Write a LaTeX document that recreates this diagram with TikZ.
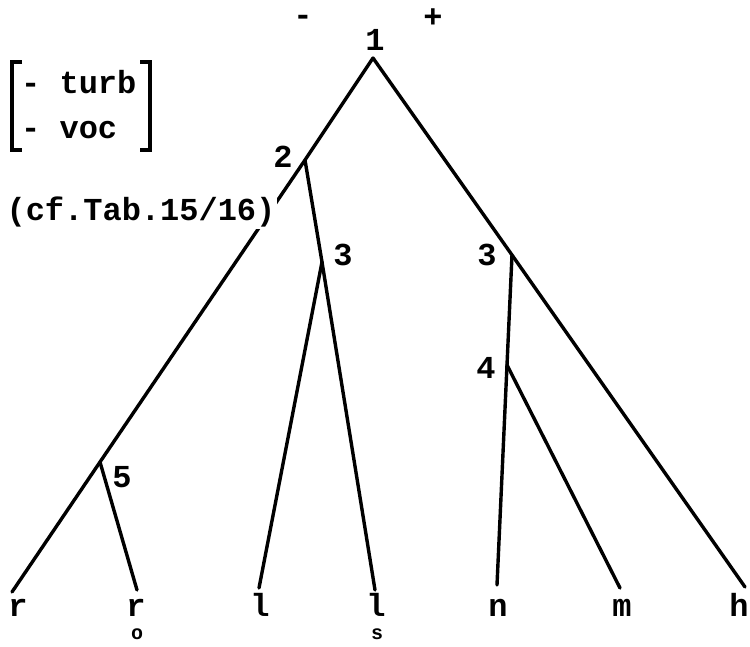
\documentclass[tikz,border=0pt]{standalone}
\usepackage{fontspec}
\setmainfont{Liberation Mono}
\begin{document}
\begin{tikzpicture}[x=1pt,y=-1pt,
  edge/.style={line width=3.4pt, line cap=round},
  brk/.style={line width=3.4pt},
  lbl/.style={font=\fontsize{32}{32}\selectfont\bfseries, inner sep=0pt},
  leaf/.style={lbl, anchor=base},
  sub/.style={font=\fontsize{20}{20}\selectfont\bfseries, inner sep=0pt}]
\useasboundingbox (0,0) rectangle (750,646);
% tree nodes
\coordinate (n1) at (373,58);
\coordinate (n2) at (305,160);
\coordinate (n3a) at (322,262);
\coordinate (n3b) at (512,255);
\coordinate (n4) at (507,365);
\coordinate (n5) at (100,462);
% leaf line ends
\coordinate (e1) at (12,592);
\coordinate (e2) at (137,590);
\coordinate (e3) at (259,588);
\coordinate (e4) at (375,590);
\coordinate (e5) at (497,585);
\coordinate (e6) at (620,588);
\coordinate (e7) at (745,587);
% edges
\draw[edge] (n1) -- (n2) -- (n5) -- (e1);
\draw[edge] (n5) -- (e2);
\draw[edge] (n2) -- (n3a);
\draw[edge] (n3a) -- (e3);
\draw[edge] (n3a) -- (e4);
\draw[edge] (n1) -- (n3b) -- (e7);
\draw[edge] (n3b) -- (n4);
\draw[edge] (n4) -- (e5);
\draw[edge] (n4) -- (e6);
% node labels
\node[lbl] (l1) at (375,40) {1};
\node[lbl] (l2) at (283,157) {2};
\node[lbl] (l3a) at (343,255) {3};
\node[lbl] (l3b) at (487,255) {3};
\node[lbl] (l4) at (486,368) {4};
\node[lbl] (l5) at (122,477) {5};
\node[lbl] (minus) at (303,20) {-};
\node[lbl] (plus) at (433,18) {+};
% reference note
\node[lbl, fill=white, inner sep=2pt] (cf) at (141,212) {(cf.Tab.15/16)};
% feature matrix
\node[lbl, anchor=west] (f1) at (21,82) {- turb};
\node[lbl, anchor=west] (f2) at (21,130) {- voc};
\draw[brk] (22,62) -- (12,62) -- (12,150) -- (22,150);
\draw[brk] (140,62) -- (150,62) -- (150,150) -- (140,150);
% leaves
\node[leaf] (r1) at (18,616) {r};
\node[leaf] (r2) at (136,616) {r};
\node[sub] (r2s) at (137,634) {o};
\node[leaf] (s1) at (260,616) {l};
\node[leaf] (s2) at (376,616) {l};
\node[sub] (s2s) at (377,634) {s};
\node[leaf] (nn) at (498,616) {n};
\node[leaf] (mm) at (622,616) {m};
\node[leaf] (hh) at (739,616) {h};
\end{tikzpicture}
\end{document}
